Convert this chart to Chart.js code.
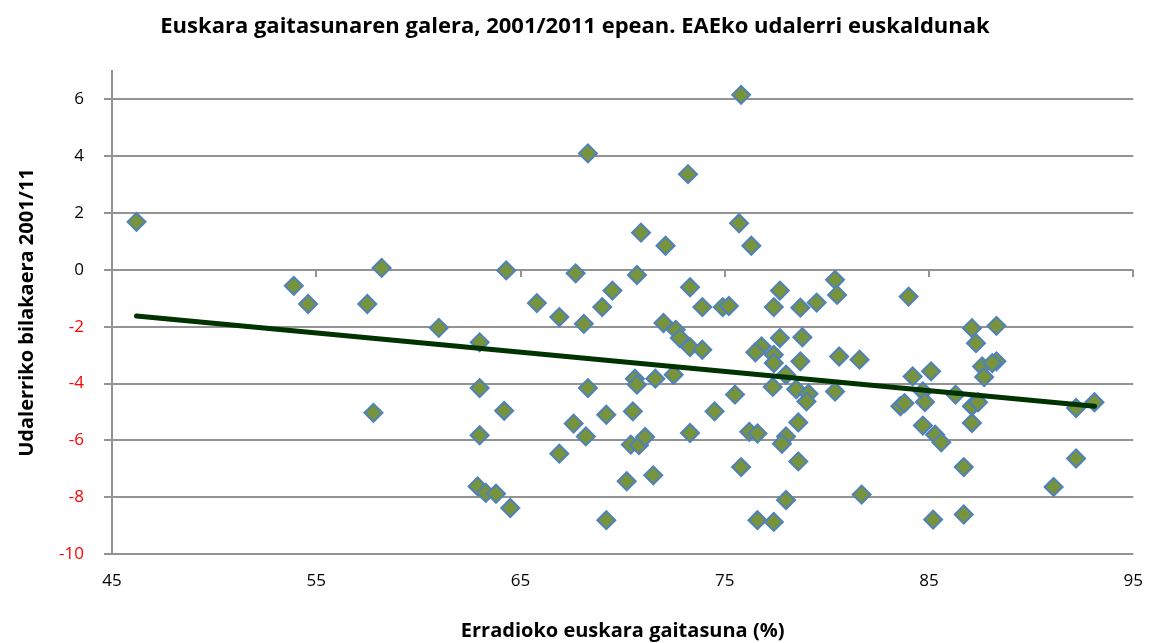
<!DOCTYPE html>
<html>
<head>
<meta charset="utf-8">
<script src="https://cdn.jsdelivr.net/npm/chart.js@4.4.1/dist/chart.umd.min.js"></script>
<style>
    html, body { margin: 0; padding: 0; background: #fff; }
    #wrap { width: 1150px; height: 643px; }
</style>
</head>
<body>
<div id="wrap"><canvas id="myChart" width="1150" height="643"></canvas></div>
<script>
const titulua = 'Euskara gaitasunaren galera, 2001/2011 epean. EAEko udalerri euskaldunak'
const xIzena = 'Erradioko euskara gaitasuna (%)'
const yIzena = 'Udalerriko bilakaera 2001/11'

// udalerriak: euskara gaitasuna (%) eta bilakaera 2001/11
const gaitasuna = [
    46.2, 53.9, 54.6, 57.5, 57.8, 58.2, 61.0, 63.0, 63.0, 63.0,
    62.9, 63.3, 63.8, 64.5, 64.2, 64.3, 65.8, 66.9, 67.7, 68.1,
    69.0, 69.5, 68.3, 68.3, 67.6, 68.2, 66.9, 69.2, 69.2, 70.9,
    70.7, 70.6, 70.7, 70.5, 71.6, 70.4, 70.8, 71.1, 70.2, 71.5,
    72.1, 72.0, 72.6, 72.8, 73.3, 73.9, 72.5, 73.2, 73.3, 73.9,
    73.3, 74.5, 74.9, 75.2, 75.8, 75.7, 76.3, 75.5, 75.8, 76.8,
    76.5, 77.4, 77.7, 77.7, 77.4, 77.4, 77.35, 76.2, 76.6, 76.6,
    77.4, 78.0, 78.7, 78.5, 78.0, 77.8, 78.6, 78.6, 78.0, 78.7,
    79.5, 80.4, 80.5, 84.0, 78.8, 80.6, 81.6, 79.1, 79.0, 80.4,
    81.7, 84.2, 85.1, 83.6, 83.8, 84.7, 84.8, 84.7, 85.3, 85.6,
    86.7, 86.7, 85.2, 86.3, 87.1, 87.3, 88.3, 87.6, 87.7, 88.3,
    88.1, 87.1, 87.4, 87.1, 92.2, 93.1, 92.2, 91.1
]
const bilakaera = [
    1.69, -0.56, -1.20, -1.20, -5.03, 0.07, -2.04, -2.55, -4.16, -5.82,
    -7.62, -7.85, -7.88, -8.38, -4.96, -0.02, -1.17, -1.66, -0.12, -1.90,
    -1.31, -0.73, 4.10, -4.16, -5.41, -5.86, -6.47, -5.10, -8.81, 1.31,
    -0.18, -3.83, -4.04, -4.98, -3.83, -6.15, -6.17, -5.88, -7.44, -7.23,
    0.85, -1.87, -2.11, -2.40, -2.72, -2.81, -3.69, 3.37, -0.61, -1.31,
    -5.74, -4.98, -1.31, -1.27, 6.16, 1.64, 0.85, -4.39, -6.94, -2.69,
    -2.90, -1.31, -0.73, -2.40, -2.99, -3.28, -4.12, -5.70, -5.76, -8.81,
    -8.87, -3.69, -3.22, -4.20, -5.86, -6.12, -5.37, -6.74, -8.10, -1.33,
    -1.15, -0.35, -0.88, -0.94, -2.37, -3.05, -3.16, -4.36, -4.63, -4.28,
    -7.91, -3.75, -3.57, -4.80, -4.69, -4.28, -4.65, -5.48, -5.80, -6.07,
    -6.94, -8.61, -8.79, -4.39, -2.05, -2.58, -1.97, -3.40, -3.77, -3.22,
    -3.28, -4.80, -4.66, -5.39, -4.86, -4.66, -6.64, -7.64
]

// joera lerroa (irudian irakurritako muturrak)
const joeraX = [46.2, 93.1]
const joeraY = [-1.62, -4.80]

const xTicks = [45, 55, 65, 75, 85, 95]
const yTicks = [-10, -8, -6, -4, -2, 0, 2, 4, 6]

const letra = '"Open Sans", sans-serif'
const grisa = '#939393'

const puntuak = gaitasuna.map((x, i) => ({ x: x, y: bilakaera[i] }))
const joera = joeraX.map((x, i) => ({ x: x, y: joeraY[i] }))

const context = document.getElementById('myChart').getContext('2d')

new Chart(context, {
    type: 'scatter',
    data: {
        datasets: [
            {
                label: 'Joera',
                data: joera,
                showLine: true,
                borderColor: '#013300',
                borderWidth: 5,
                borderCapStyle: 'round',
                pointRadius: 0,
                order: 0
            },
            {
                label: 'Udalerriak',
                data: puntuak,
                pointStyle: 'rectRot',
                pointRadius: 9,
                pointHoverRadius: 9,
                backgroundColor: '#77933C',
                borderColor: '#4F81BD',
                borderWidth: 2,
                order: 1
            }
        ]
    },
    options: {
        responsive: false,
        animation: false,
        layout: { padding: { left: 0, right: 0, top: 0, bottom: 0 } },
        plugins: {
            legend: { display: false },
            tooltip: { enabled: false },
            title: {
                display: true,
                text: titulua,
                color: '#000',
                font: { family: letra, size: 22, weight: 'bold', lineHeight: 1.2 },
                padding: { top: 14, bottom: 30.6 }
            }
        },
        scales: {
            x: {
                type: 'linear',
                position: 'bottom',
                min: 45,
                max: 95,
                afterBuildTicks: scale => { scale.ticks = xTicks.map(v => ({ value: v })) },
                afterFit: scale => { scale.height = 89 },
                grid: { display: false, drawTicks: true, tickLength: 10 },
                border: { display: false },
                ticks: {
                    color: '#000',
                    padding: 7,
                    maxRotation: 0,
                    font: { family: letra, size: 17 }
                },
                title: {
                    display: true,
                    text: xIzena,
                    color: '#000',
                    font: { family: letra, size: 20, weight: 'bold', lineHeight: 1.2 },
                    padding: { top: 0, bottom: 0 }
                }
            },
            x0: {
                type: 'linear',
                axis: 'x',
                position: { y: 0 },
                min: 45,
                max: 95,
                afterBuildTicks: scale => { scale.ticks = xTicks.map(v => ({ value: v })) },
                grid: { drawOnChartArea: false, drawTicks: true, tickLength: 7, color: grisa, lineWidth: 2 },
                border: { display: false },
                ticks: { display: false }
            },
            y: {
                type: 'linear',
                min: -10,
                max: 7,
                afterBuildTicks: scale => { scale.ticks = yTicks.map(v => ({ value: v })) },
                afterFit: scale => { scale.width = 112 },
                grid: { color: grisa, lineWidth: 2, drawTicks: true, tickLength: 8 },
                border: { display: true, color: grisa, width: 2 },
                ticks: {
                    padding: 20,
                    font: { family: letra, size: 17 },
                    color: c => (c.tick && c.tick.value < 0) ? '#ff0000' : '#000'
                },
                title: {
                    display: true,
                    text: yIzena,
                    color: '#000',
                    font: { family: letra, size: 20, weight: 'bold', lineHeight: 1.2 },
                    padding: { top: 15, bottom: 0 }
                }
            }
        }
    }
})
</script>
</body>
</html>
